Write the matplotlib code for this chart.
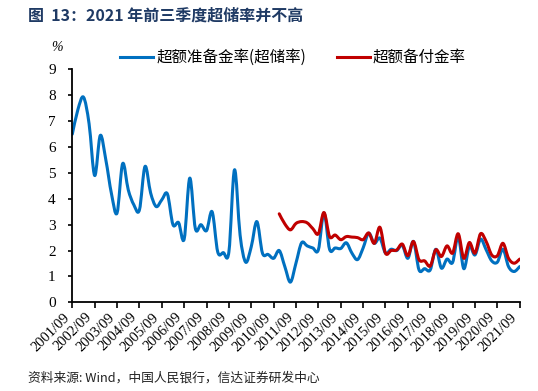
##  超储率 chart (Fig. 13)

import numpy as np
import matplotlib
matplotlib.use('Agg')
import matplotlib.pyplot as plt
from matplotlib.path import Path
from matplotlib.patches import PathPatch
from matplotlib.lines import Line2D

plt.rcParams['font.family'] = ['Noto Sans CJK SC', 'DejaVu Sans']

# quarterly, 2001/09 .. 2021/09
quarters = [f'{y}/{m:02d}' for y in range(2001, 2022) for m in (3, 6, 9, 12)][2:-1]

excess_reserve = [6.5, 7.45, 7.93, 6.9, 4.9, 6.45, 5.5, 4.2, 3.45, 5.36,
                  4.35, 3.77, 3.57, 5.25, 4.23, 3.7, 3.96, 4.19, 3.0, 3.08,
                  2.44, 4.8, 2.85, 3.0, 2.77, 3.5, 1.95, 1.92, 1.95, 5.12,
                  2.6, 1.55, 2.15, 3.12, 1.9, 1.85, 1.7, 2.0, 1.38, 0.78,
                  1.52, 2.3, 2.18, 2.1, 2.03, 3.45, 2.05, 2.1, 2.08, 2.3,
                  1.9, 1.65, 2.1, 2.67, 2.28, 2.48, 1.9, 2.05, 2.0, 2.2,
                  1.7, 2.35, 1.25, 1.3, 1.25, 2.05, 1.32, 1.67, 1.54, 2.54,
                  1.3, 2.16, 1.83, 2.44, 2.03, 1.6, 1.55, 2.05, 1.38, 1.19,
                  1.38]

# 超额备付金率 starts 2010/12
payment_start = 37
excess_payment = [3.42, 3.03, 2.8, 3.05, 3.12, 3.07, 2.85, 2.65, 3.47, 2.54,
                  2.6, 2.42, 2.54, 2.52, 2.5, 2.42, 2.68, 2.28, 2.9, 1.9,
                  2.0, 2.02, 2.25, 1.8, 2.35, 1.64, 1.6, 1.4, 2.03, 1.77,
                  2.18, 1.9, 2.65, 1.7, 2.31, 1.9, 2.65, 2.35, 1.83, 1.8,
                  2.28, 1.7, 1.51, 1.67]

yticks = list(range(0, 10))
xtick_idx = list(range(0, len(quarters), 4))

BLUE = '#0070C0'
RED = '#C00000'


def smooth_path(x, y):
    # excel style smoothed line -> cubic bezier segments
    pts = np.column_stack([x, y]).astype(float)
    n = len(pts)
    verts = [pts[0]]
    codes = [Path.MOVETO]
    for i in range(n - 1):
        p0 = pts[i - 1] if i > 0 else pts[i]
        p3 = pts[i + 2] if i + 2 < n else pts[i + 1]
        c1 = pts[i] + (pts[i + 1] - p0) / 6
        c2 = pts[i + 1] - (p3 - pts[i]) / 6
        verts += [c1, c2, pts[i + 1]]
        codes += [Path.CURVE4] * 3
    return Path(verts, codes)


fig = plt.figure(figsize=(5.38, 3.91), dpi=100)
ax = fig.add_axes([0.1344, 0.2269, 0.8316, 0.5954])

x_blue = np.arange(len(excess_reserve))
x_red = np.arange(payment_start, payment_start + len(excess_payment))

ax.add_patch(PathPatch(smooth_path(x_blue, excess_reserve), fill=False,
                       edgecolor=BLUE, linewidth=2.2, capstyle='round', joinstyle='round'))
ax.add_patch(PathPatch(smooth_path(x_red, excess_payment), fill=False,
                       edgecolor=RED, linewidth=2.2, capstyle='round', joinstyle='round'))

ax.set_xlim(0, len(quarters) - 1)
ax.set_ylim(0, 9)
ax.set_yticks(yticks)
ax.set_yticklabels([str(v) for v in yticks], fontsize=11, family='Liberation Serif')
ax.set_xticks(xtick_idx)
ax.set_xticklabels([quarters[i] for i in xtick_idx], rotation=45, ha='right',
                   fontsize=10.5, family='Liberation Serif')

for s in ['top', 'right']:
    ax.spines[s].set_visible(False)
for s in ['left', 'bottom']:
    ax.spines[s].set_linewidth(1.3)
    ax.spines[s].set_color('black')
ax.tick_params(axis='y', length=3, width=1.2, pad=9)
ax.tick_params(axis='x', length=4, width=1.2, pad=2)

ax.text(-0.035, 1.095, '%', transform=ax.transAxes, fontsize=10,
        family='Liberation Serif', style='italic', ha='center', va='center')

handles = [Line2D([], [], color=BLUE, linewidth=2.2),
           Line2D([], [], color=RED, linewidth=2.2)]
fig.legend(handles, ['超额准备金率(超储率)', '超额备付金率'], loc='center',
           bbox_to_anchor=(293 / 538, 1 - 57.5 / 391), ncol=2, frameon=False,
           fontsize=11.2, handlelength=2.1, handletextpad=0.2, columnspacing=2.0)

fig.text(28 / 538, 1 - 16 / 391, '图  13：2021 年前三季度超储率并不高', fontsize=11.5,
         fontweight='bold', color='#1F3A64', ha='left', va='center')
fig.text(28 / 538, 1 - 378 / 391, '资料来源: Wind，中国人民银行，信达证券研发中心',
         fontsize=9.2, style='italic', color='#222222', ha='left', va='center')

fig.savefig('out.png', dpi=100)
